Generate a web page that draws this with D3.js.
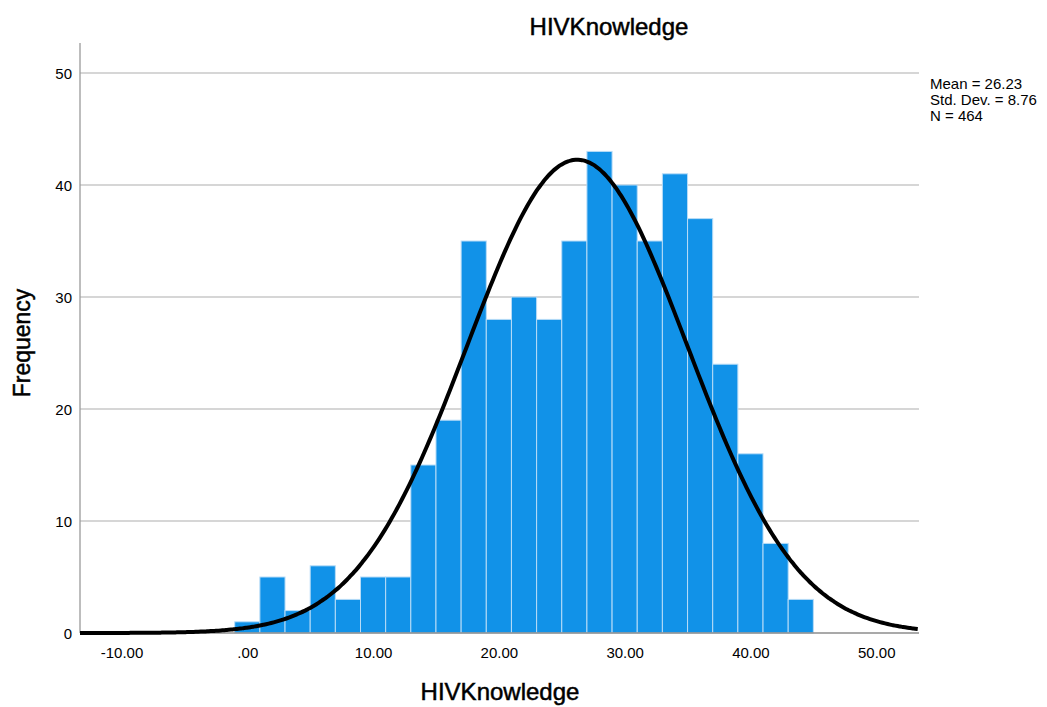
<!DOCTYPE html>
<html>
<head>
<meta charset="utf-8">
<script src="https://cdn.jsdelivr.net/npm/d3@7/dist/d3.min.js"></script>
<style>
  body { margin: 0; background: #ffffff; }
  text { font-family: "Liberation Sans", Arial, sans-serif; fill: #000; }
  .title { stroke: #000; stroke-width: 0.5px; }
</style>
</head>
<body>
<div id="chart"></div>
<script>
// histogram bins (lower edge, width 2) and their frequencies
var binStarts = [-1, 1, 3, 5, 7, 9, 11, 13, 15, 17, 19, 21, 23, 25, 27, 29, 31, 33, 35, 37, 39, 41, 43];
var binCounts = [1, 5, 2, 6, 3, 5, 5, 15, 19, 35, 28, 30, 28, 35, 43, 40, 35, 41, 37, 24, 16, 8, 3];
var binWidth = 2;

var xTicks = [-10, 0, 10, 20, 30, 40, 50];
var yTicks = [0, 10, 20, 30, 40, 50];

// summary shown at the right, also used for the normal curve
var statMean = 26.23;
var statSd = 8.76;
var statN = 464;
var statLines = ["Mean = 26.23", "Std. Dev. = 8.76", "N = 464"];

var WIDTH = 1047;
var HEIGHT = 707;
var plotLeft = 80, plotRight = 919, plotTop = 43, plotBottom = 633;

const svg = d3.select("#chart").append("svg")
  .attr("width", WIDTH)
  .attr("height", HEIGHT);

const x = d3.scaleLinear()
  .domain([-13.3, 53.4])
  .range([plotLeft, plotRight]);

const y = d3.scaleLinear()
  .domain([0, 52.68])
  .range([plotBottom, plotTop]);

// gridlines
svg.append("g")
  .selectAll("line")
  .data(yTicks.filter(d => d > 0))
  .join("line")
  .attr("x1", plotLeft)
  .attr("x2", plotRight)
  .attr("y1", d => y(d))
  .attr("y2", d => y(d))
  .attr("stroke", "#c8c8c8")
  .attr("stroke-width", 1.3);

// bars
svg.append("g")
  .selectAll("rect")
  .data(binStarts)
  .join("rect")
  .attr("x", d => x(d))
  .attr("y", (d, i) => y(binCounts[i]))
  .attr("width", d => x(d + binWidth) - x(d))
  .attr("height", (d, i) => y(0) - y(binCounts[i]))
  .attr("fill", "#1192e8")
  .attr("stroke", "#b8dcf7")
  .attr("stroke-width", 1);

// y axis
const yAxis = d3.axisLeft(y)
  .tickValues(yTicks)
  .tickSize(0)
  .tickPadding(8)
  .tickFormat(d3.format("d"));

svg.append("g")
  .attr("transform", `translate(${plotLeft},0)`)
  .call(yAxis)
  .call(g => g.select(".domain").remove())
  .call(g => g.selectAll("text")
    .style("font-size", "15px")
    .attr("dy", "0.36em"));

svg.append("line")
  .attr("x1", plotLeft).attr("x2", plotLeft)
  .attr("y1", plotTop).attr("y2", plotBottom)
  .attr("stroke", "#9a9a9a")
  .attr("stroke-width", 1.3);

// x axis
const fmt = d3.format(".2f");
const xAxis = d3.axisBottom(x)
  .tickValues(xTicks)
  .tickSize(0)
  .tickPadding(14)
  .tickFormat(d => fmt(d).replace("\u2212", "-").replace(/^0\./, "."));

svg.append("g")
  .attr("transform", `translate(0,${plotBottom})`)
  .call(xAxis)
  .call(g => g.select(".domain").remove())
  .call(g => g.selectAll("text").style("font-size", "15px"));

svg.append("line")
  .attr("x1", plotLeft).attr("x2", plotRight)
  .attr("y1", plotBottom).attr("y2", plotBottom)
  .attr("stroke", "#8c8c8c")
  .attr("stroke-width", 1.3);

// normal curve from mean / sd, scaled to counts
const curveXs = d3.range(x.domain()[0], x.domain()[1] + 0.001, 0.2);
const normal = v => statN * binWidth * Math.exp(-0.5 * Math.pow((v - statMean) / statSd, 2)) / (statSd * Math.sqrt(2 * Math.PI));

svg.append("path")
  .datum(curveXs)
  .attr("fill", "none")
  .attr("stroke", "#000")
  .attr("stroke-width", 4)
  .attr("d", d3.line().x(d => x(d)).y(d => y(normal(d))).curve(d3.curveBasis));

// titles
svg.append("text")
  .attr("class", "title")
  .attr("x", 609)
  .attr("y", 35)
  .attr("text-anchor", "middle")
  .style("font-size", "24px")
  .text("HIVKnowledge");

svg.append("text")
  .attr("class", "title")
  .attr("x", 500)
  .attr("y", 700)
  .attr("text-anchor", "middle")
  .style("font-size", "24px")
  .text("HIVKnowledge");

svg.append("text")
  .attr("class", "title")
  .attr("transform", "translate(30,343) rotate(-90)")
  .attr("text-anchor", "middle")
  .style("font-size", "23px")
  .text("Frequency");

// stats box
svg.append("g")
  .selectAll("text")
  .data(statLines)
  .join("text")
  .attr("x", 930)
  .attr("y", (d, i) => 89 + i * 16)
  .style("font-size", "15px")
  .text(d => d);
</script>
</body>
</html>
